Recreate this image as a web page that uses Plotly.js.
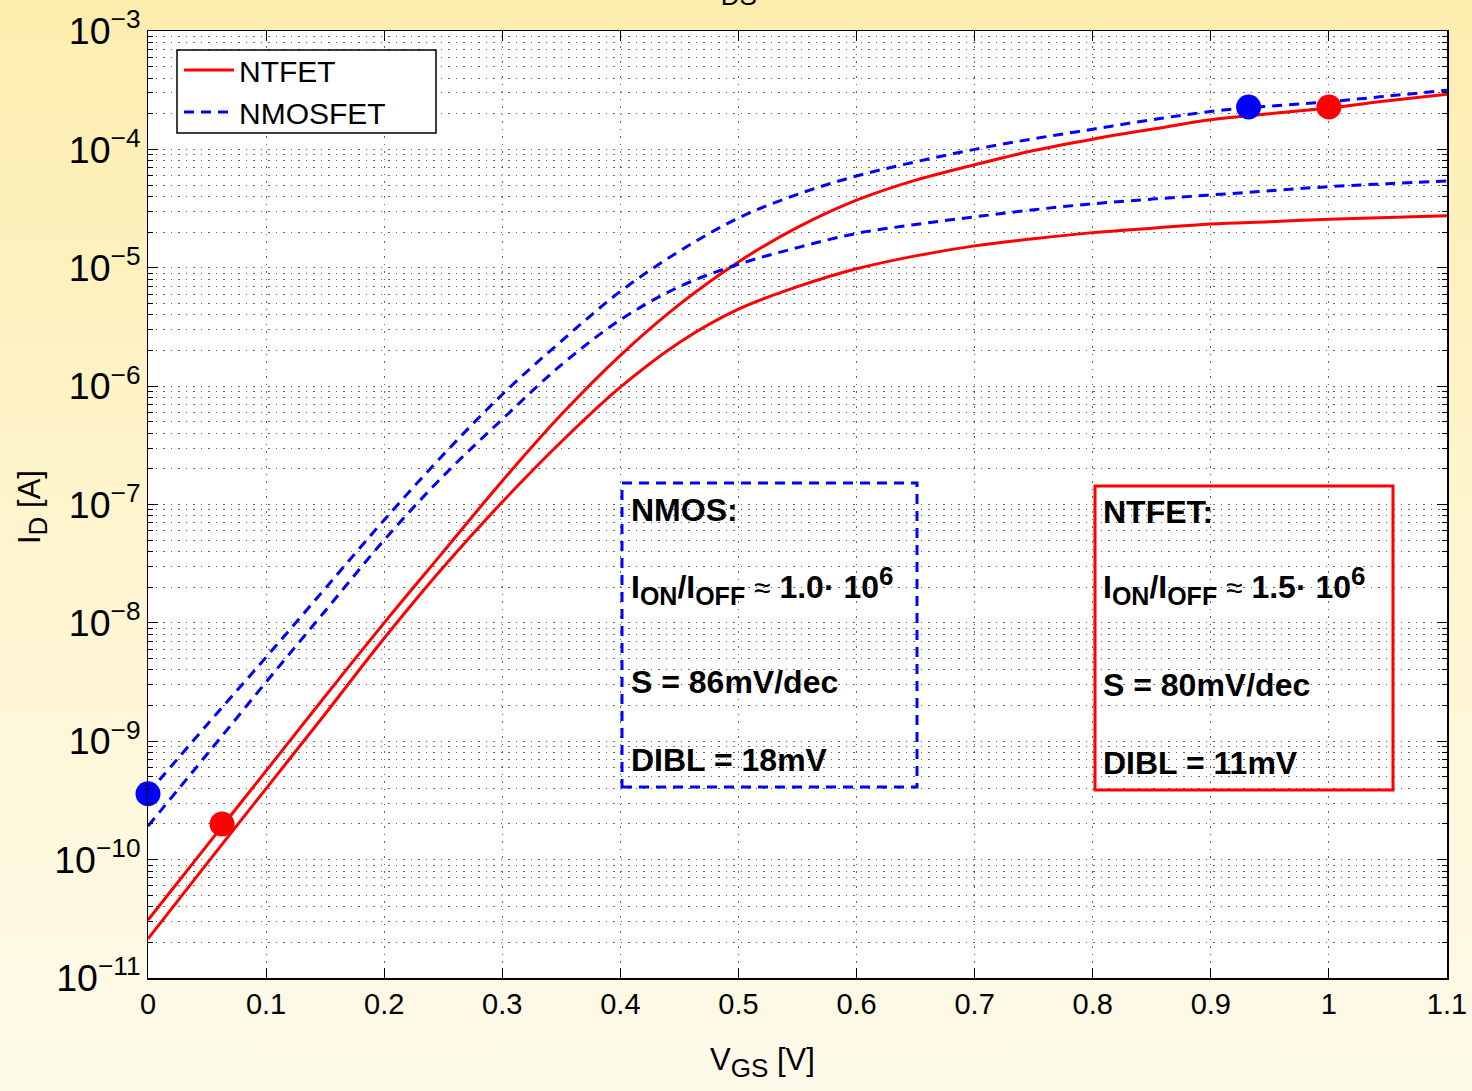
<!DOCTYPE html>
<html>
<head>
<meta charset="utf-8">
<script src="https://cdn.plot.ly/plotly-3.0.1.min.js"></script>
<style>
  html, body { margin: 0; padding: 0; }
  body { width: 1472px; height: 1091px; background: linear-gradient(180deg, #FDEDAE 0%, #FEF5CF 50%, #FEFAEA 100%); }
  #chart { width: 1472px; height: 1091px; }
</style>
</head>
<body>
<div id="chart"></div>
<script>
// V_GS sample points [V]
const vgs = [0, 0.05, 0.1, 0.15, 0.2, 0.25, 0.3, 0.35, 0.4, 0.45, 0.5, 0.55, 0.6, 0.65, 0.7, 0.75, 0.8, 0.85, 0.9, 0.95, 1.0, 1.05, 1.1];

// NTFET drain current [A], higher V_DS
const ntfetHigh = [3.09e-11, 1.32e-10, 5.62e-10, 2.40e-9, 1.0e-8, 3.98e-8, 1.58e-7, 5.75e-7, 1.82e-6, 4.90e-6, 1.12e-5, 2.19e-5, 3.72e-5, 5.50e-5, 7.41e-5, 9.77e-5, 1.22e-4, 1.48e-4, 1.78e-4, 2.0e-4, 2.24e-4, 2.57e-4, 2.92e-4];
// NTFET drain current [A], lower V_DS
const ntfetLow = [2.14e-11, 9.3e-11, 3.98e-10, 1.70e-9, 7.41e-9, 2.95e-8, 1.05e-7, 3.39e-7, 9.8e-7, 2.34e-6, 4.47e-6, 6.92e-6, 9.8e-6, 1.26e-5, 1.53e-5, 1.76e-5, 1.98e-5, 2.16e-5, 2.34e-5, 2.45e-5, 2.57e-5, 2.66e-5, 2.75e-5];
// NMOSFET drain current [A], higher V_DS
const nmosHigh = [3.63e-10, 1.38e-9, 5.13e-9, 1.95e-8, 7.41e-8, 2.63e-7, 8.5e-7, 2.40e-6, 6.31e-6, 1.38e-5, 2.63e-5, 4.17e-5, 5.96e-5, 7.85e-5, 1.0e-4, 1.23e-4, 1.48e-4, 1.78e-4, 2.09e-4, 2.32e-4, 2.53e-4, 2.82e-4, 3.16e-4];
// NMOSFET drain current [A], lower V_DS
const nmosLow = [1.92e-10, 7.76e-10, 3.16e-9, 1.26e-8, 5.01e-8, 1.74e-7, 5.25e-7, 1.51e-6, 3.63e-6, 6.92e-6, 1.07e-5, 1.48e-5, 1.95e-5, 2.32e-5, 2.69e-5, 3.09e-5, 3.47e-5, 3.80e-5, 4.12e-5, 4.47e-5, 4.84e-5, 5.13e-5, 5.41e-5];

// I_OFF / I_ON marker points
const ntfetMarkV = [0.0627, 1.0];
const ntfetMarkI = [2.0e-10, 2.28e-4];
const nmosMarkV = [0.0, 0.932];
const nmosMarkI = [3.6e-10, 2.28e-4];

const legendNames = ['NTFET', 'NMOSFET'];
const xTicks = [0, 0.1, 0.2, 0.3, 0.4, 0.5, 0.6, 0.7, 0.8, 0.9, 1, 1.1];

const SUB = s => '<sub><span style="font-size:25px">' + s + '</span></sub>';
const SUP = s => '<sup><span style="font-size:26px">' + s + '</span></sup>';
const APPROX = '<span style="font-size:30px;font-weight:normal">≈</span>';
const nmosLines = ['<b>NMOS:</b>', '<b>I' + SUB('ON') + '/I' + SUB('OFF') + '</b> ' + APPROX + ' <b>1.0· 10' + SUP('6') + '</b>', '<b>S = 86mV/dec</b>', '<b>DIBL = 18mV</b>'];
const ntfetLines = ['<b>NTFET:</b>', '<b>I' + SUB('ON') + '/I' + SUB('OFF') + '</b> ' + APPROX + ' <b>1.5· 10' + SUP('6') + '</b>', '<b>S = 80mV/dec</b>', '<b>DIBL = 11mV</b>'];

const RED = '#FF0000', BLUE = '#0000FF';
const FONT = 'Liberation Sans, Arial, Helvetica, sans-serif';

const traces = [
  {x: vgs, y: ntfetHigh, mode: 'lines', name: legendNames[0], line: {color: RED, width: 3, shape: 'spline', smoothing: 1}, showlegend: true},
  {x: vgs, y: nmosHigh, mode: 'lines', name: legendNames[1], line: {color: BLUE, width: 3, dash: '10px,7px', shape: 'spline', smoothing: 1}, showlegend: true},
  {x: vgs, y: ntfetLow, mode: 'lines', name: legendNames[0], line: {color: RED, width: 3, shape: 'spline', smoothing: 1}, showlegend: false},
  {x: vgs, y: nmosLow, mode: 'lines', name: legendNames[1], line: {color: BLUE, width: 3, dash: '10px,7px', shape: 'spline', smoothing: 1}, showlegend: false},
  {x: ntfetMarkV, y: ntfetMarkI, mode: 'markers', marker: {color: RED, size: 25}, showlegend: false, cliponaxis: false},
  {x: nmosMarkV, y: nmosMarkI, mode: 'markers', marker: {color: BLUE, size: 25}, showlegend: false, cliponaxis: false}
];

const gridCol = 'rgba(0,0,0,0.6)';
const gridDash = '1.5px,6px';
const L = 148, T = 31, W = 1299, H = 947;
function px(xp) { return (xp - L) / W; }
function py(yp) { return 1 - (yp - T) / H; }

const annotations = [];
const nmosY = [510, 585, 682, 760];
const ntfetY = [512, 585, 685, 763];
nmosLines.forEach((t, i) => annotations.push({xref: 'paper', yref: 'paper', x: px(629), y: py(nmosY[i]), xanchor: 'left', yanchor: 'middle', text: t, showarrow: false, font: {family: FONT, size: 32, color: '#000'}}));
ntfetLines.forEach((t, i) => annotations.push({xref: 'paper', yref: 'paper', x: px(1101), y: py(ntfetY[i]), xanchor: 'left', yanchor: 'middle', text: t, showarrow: false, font: {family: FONT, size: 32, color: '#000'}}));
// top title, only its lower part is inside the picture
annotations.push({xref: 'paper', yref: 'paper', x: px(728), y: py(13), xanchor: 'center', yanchor: 'bottom', text: 'V<sub><span style="font-size:26px">DS</span></sub>', showarrow: false, font: {family: FONT, size: 31, color: '#000'}});
// axis titles
annotations.push({xref: 'paper', yref: 'paper', x: px(762), y: py(1062), xanchor: 'center', yanchor: 'middle', text: 'V<sub><span style="font-size:26px">GS</span></sub> [V]', showarrow: false, font: {family: FONT, size: 31, color: '#000'}});
annotations.push({xref: 'paper', yref: 'paper', x: px(32), y: py(507), xanchor: 'center', yanchor: 'middle', textangle: -90, text: 'I<sub><span style="font-size:26px">D</span></sub> [A]', showarrow: false, font: {family: FONT, size: 31, color: '#000'}});

const layout = {
  width: 1472, height: 1091,
  paper_bgcolor: 'rgba(0,0,0,0)',
  plot_bgcolor: '#FFFFFF',
  margin: {l: L, r: 1472 - 1447, t: T, b: 1091 - 978, pad: 0},
  font: {family: FONT, size: 30, color: '#000'},
  showlegend: true,
  legend: {
    x: px(179), y: py(44), xanchor: 'left', yanchor: 'top',
    bgcolor: 'rgba(0,0,0,0)', borderwidth: 0,
    font: {family: FONT, size: 30, color: '#000'},
    tracegroupgap: 0, itemwidth: 50
  },
  xaxis: {
    range: [0, 1.1], tickvals: xTicks, ticktext: xTicks.map(v => String(v)),
    ticks: 'inside', ticklen: 10, tickwidth: 1, tickcolor: '#000',
    showline: true, linecolor: '#000', linewidth: 1.5, mirror: 'allticks',
    showgrid: true, gridcolor: gridCol, griddash: gridDash, gridwidth: 1,
    zeroline: false,
    tickfont: {family: FONT, size: 29}
  },
  yaxis: {
    type: 'log', range: [-11, -3], dtick: 1,
    exponentformat: 'power', showexponent: 'all',
    ticks: 'inside', ticklen: 10, tickwidth: 1, tickcolor: '#000',
    showline: true, linecolor: '#000', linewidth: 1.5, mirror: 'allticks',
    showgrid: true, gridcolor: gridCol, griddash: gridDash, gridwidth: 1,
    minor: {dtick: 'D1', ticks: 'inside', ticklen: 5, tickcolor: '#000', showgrid: true, gridcolor: gridCol, griddash: gridDash, gridwidth: 1},
    zeroline: false,
    tickfont: {family: FONT, size: 30}
  },
  shapes: [
    // legend frame
    {type: 'rect', xref: 'paper', yref: 'paper', x0: px(177), x1: px(436), y0: py(133), y1: py(50), line: {color: '#000', width: 1.5}, fillcolor: '#FFFFFF', layer: 'above'},
    {type: 'rect', xref: 'paper', yref: 'paper', x0: px(622), x1: px(917), y0: py(787), y1: py(483), line: {color: BLUE, width: 3, dash: '10px,7px'}, fillcolor: 'rgba(0,0,0,0)'},
    {type: 'rect', xref: 'paper', yref: 'paper', x0: px(1095), x1: px(1393), y0: py(790), y1: py(486), line: {color: RED, width: 3}, fillcolor: 'rgba(0,0,0,0)'}
  ],
  annotations: annotations
};

Plotly.newPlot('chart', traces, layout, {displayModeBar: false, staticPlot: true});
</script>
</body>
</html>
